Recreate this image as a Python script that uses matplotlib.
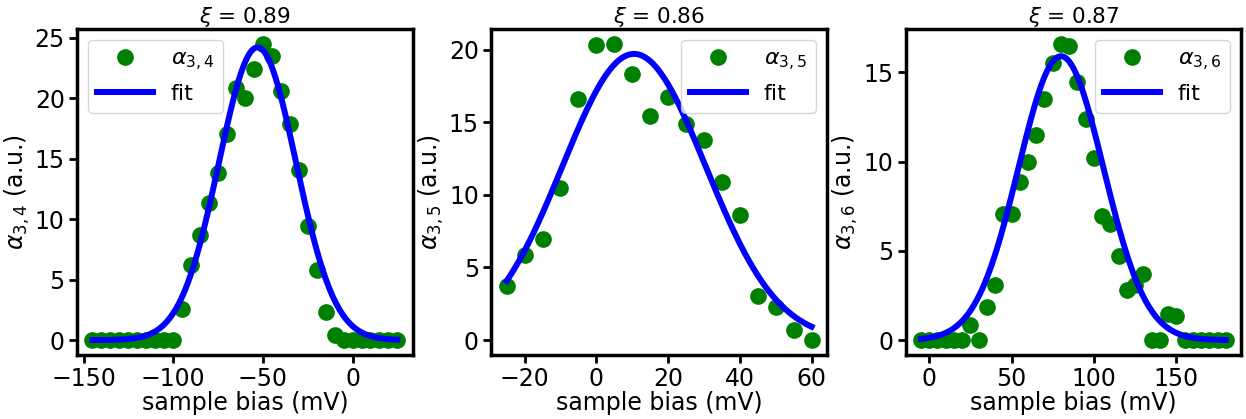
import numpy as np
import matplotlib
matplotlib.use("Agg")
import matplotlib.pyplot as plt

# ---- data ----
bias1 = list(range(-145, 30, 5))
alpha34 = [0, 0, 0, 0, 0, 0, 0, 0, 0, 0,
           2.6, 6.2, 8.7, 11.35, 13.8, 17.0, 20.8, 20.0, 22.4, 24.5,
           23.5, 20.6, 17.9, 14.1, 9.45, 5.8, 2.3, 0.41, 0, 0,
           0, 0, 0, 0, 0]
fit1 = dict(amp=24.2, mu=-53.0, sigma=21.5)

bias2 = list(range(-25, 65, 5))
alpha35 = [3.75, 5.85, 6.97, 10.5, 16.6, 20.3, 20.4, 18.3, 15.4, 16.7,
           14.9, 13.8, 10.9, 8.6, 3.0, 2.3, 0.7, 0.0]
fit2 = dict(amp=19.7, mu=10.5, sigma=20.0)

bias3 = list(range(-5, 185, 5))
alpha36 = [0, 0, 0, 0, 0, 0, 0.84, 0, 1.85, 3.1,
           7.05, 7.05, 8.86, 9.96, 11.5, 13.5, 15.5, 16.6, 16.5, 14.45,
           12.4, 10.2, 6.97, 6.5, 4.73, 2.8, 3.1, 3.7, 0, 0,
           1.45, 1.36, 0, 0, 0, 0, 0, 0]
fit3 = dict(amp=15.9, mu=80.0, sigma=25.8)

labels = [r"$\alpha_{3,4}$", r"$\alpha_{3,5}$", r"$\alpha_{3,6}$"]
titles = [r"$\xi$ = 0.89", r"$\xi$ = 0.86", r"$\xi$ = 0.87"]
legend_locs = ["upper left", "upper right", "upper right"]
xticks = [[-150, -100, -50, 0], [-20, 0, 20, 40, 60], [0, 50, 100, 150]]
yticks = [[0, 5, 10, 15, 20, 25], [0, 5, 10, 15, 20], [0, 5, 10, 15]]


def gauss(x, amp, mu, sigma):
    return amp * np.exp(-(x - mu) ** 2 / (2 * sigma ** 2))


plt.rcParams["font.family"] = ["DejaVu Sans"]
plt.rcParams["mathtext.fontset"] = "dejavusans"

fig, axes = plt.subplots(1, 3, figsize=(12.46, 4.19), dpi=100)
fig.subplots_adjust(left=0.062, right=0.996, bottom=0.153, top=0.931, wspace=0.235)

datasets = [(bias1, alpha34, fit1), (bias2, alpha35, fit2), (bias3, alpha36, fit3)]
for i, (ax, (xb, yv, fp)) in enumerate(zip(axes, datasets)):
    xb = np.array(xb, dtype=float)
    ax.plot(xb, yv, "o", color="green", markersize=11, label=labels[i], zorder=2)
    xf = np.linspace(xb.min(), xb.max(), 400)
    ax.plot(xf, gauss(xf, **fp), "-", color="blue", linewidth=4.3, label="fit", zorder=3)
    ax.set_title(titles[i], fontsize=15.5, pad=4)
    ax.set_xlabel("sample bias (mV)", fontsize=17, labelpad=0)
    ax.set_ylabel(labels[i] + " (a.u.)", fontsize=17, labelpad=2)
    ax.set_xticks(xticks[i])
    ax.set_yticks(yticks[i])
    for sp in ax.spines.values():
        sp.set_linewidth(2.5)
    ax.tick_params(width=2, length=6, labelsize=17, pad=3)
    ax.legend(loc=legend_locs[i], fontsize=16, handlelength=2.5, numpoints=1)

fig.savefig("out.png", dpi=100)
